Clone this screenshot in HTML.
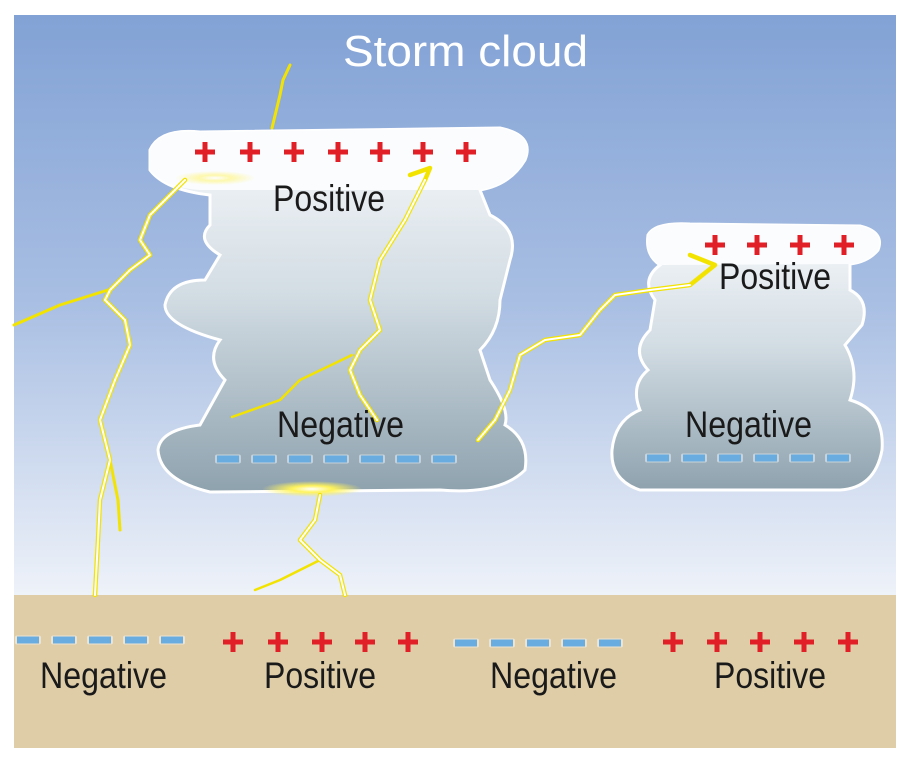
<!DOCTYPE html>
<html><head><meta charset="utf-8"><style>
body{margin:0;background:#fff}
svg{display:block}
text{font-family:"Liberation Sans",sans-serif}
</style></head><body>
<svg width="912" height="765" viewBox="0 0 912 765" xmlns="http://www.w3.org/2000/svg">
<defs>
<linearGradient id="sky" x1="0" y1="0" x2="0" y2="1">
<stop offset="0" stop-color="#82a2d5"/><stop offset="0.5" stop-color="#a9bfe3"/><stop offset="1" stop-color="#eef2f9"/>
</linearGradient>
<linearGradient id="cl" x1="0" y1="0" x2="0" y2="1">
<stop offset="0" stop-color="#f7f9fb"/><stop offset="0.45" stop-color="#d3dde4"/><stop offset="1" stop-color="#8ea2ae"/>
</linearGradient>
<radialGradient id="glow"><stop offset="0" stop-color="#fff"/><stop offset="0.4" stop-color="#fff35a"/><stop offset="1" stop-color="#fff35a" stop-opacity="0"/></radialGradient>
<g id="p"><rect x="-10" y="-2.5" width="20" height="5" fill="#e01f26"/><rect x="-2.5" y="-10" width="5" height="20" fill="#e01f26"/></g>
<g id="d"><rect x="-13" y="-4.5" width="26" height="9" rx="2" fill="#fff" opacity="0.45"/><rect x="-11" y="-3.5" width="22" height="7" fill="#68ace0"/></g>
</defs>
<rect x="14" y="15" width="882" height="580" fill="url(#sky)"/>
<rect x="14" y="595" width="882" height="153" fill="#dfcda8"/>
<path d="M150,150 Q160,128 200,132 L500,128 Q535,135 525,160 Q510,185 480,190 L490,215 Q520,230 510,260 L500,300 Q500,330 480,350 L490,380 Q510,410 505,425 Q530,440 525,470 Q500,495 440,490 L210,492 Q160,480 158,450 Q160,430 200,425 L225,380 Q205,360 220,340 Q165,325 165,305 Q170,280 205,280 L220,255 Q195,240 210,225 L210,195 Q165,190 150,170 Z" fill="url(#cl)" stroke="#fff" stroke-width="3"/>
<path d="M150,150 Q160,128 200,132 L500,128 Q535,135 525,160 Q510,185 480,190 L200,190 Q165,188 150,170 Z" fill="#fbfcfd"/>
<path d="M648,235 Q655,222 690,224 L860,226 Q885,232 878,250 Q868,262 850,264 L850,290 Q870,300 862,325 L845,345 Q860,370 850,400 Q885,410 882,450 Q875,488 840,490 L640,490 Q610,480 612,450 Q615,420 640,410 Q630,385 648,370 Q630,350 650,330 L655,300 Q640,280 660,265 Q645,255 648,235 Z" fill="url(#cl)" stroke="#fff" stroke-width="3"/>
<path d="M648,235 Q655,222 690,224 L860,226 Q885,232 878,250 Q868,262 850,264 L660,265 Q645,255 648,235 Z" fill="#fbfcfd"/>
<ellipse cx="312" cy="489" rx="50" ry="8" fill="url(#glow)"/>
<ellipse cx="215" cy="178" rx="40" ry="7" fill="url(#glow)" opacity="0.5"/>
<g fill="none" stroke-linejoin="round" stroke-linecap="round">
<g stroke="#f3e300" stroke-width="4.5">
<polyline points="272,128 280,95 283,80 290,65" stroke-width="3"/>
<polyline points="185,180 170,195 150,215 140,240 150,255 130,270 110,290 105,300 125,320 130,345 115,380 100,420 110,460 100,500 98,540 95,595"/>
<polyline points="14,325 60,305 108,290" stroke-width="3"/>
<polyline points="110,460 118,500 120,530" stroke-width="3"/>
<polyline points="410,175 430,168 425,180 405,220 380,260 370,300 380,330 360,350 350,370 360,395 377,420"/>
<polyline points="352,355 300,380 280,400 232,417" stroke-width="2.5"/>
<polyline points="478,440 495,420 510,390 520,355 545,340 580,335 600,310 615,295 650,290 690,285 715,265 690,255"/>
<polyline points="320,495 315,520 300,540 320,560 340,575 345,595"/>
<polyline points="320,560 280,580 255,590" stroke-width="2.5"/>
</g>
<g stroke="#fff" stroke-width="2">
<polyline points="185,180 170,195 150,215 140,240 150,255 130,270 110,290 105,300 125,320 130,345 115,380 100,420 110,460 100,500 98,540 95,595"/>
<polyline points="425,180 405,220 380,260 370,300 380,330 360,350 350,370 360,395 377,420"/>
<polyline points="478,440 495,420 510,390 520,355 545,340 580,335 600,310 615,295 650,290 690,285"/>
<polyline points="320,495 315,520 300,540 320,560 340,575 345,595"/>
</g>
</g>
<use href="#p" x="205" y="152"/><use href="#p" x="250" y="152"/><use href="#p" x="294" y="152"/><use href="#p" x="338" y="152"/><use href="#p" x="380" y="152"/><use href="#p" x="423" y="152"/><use href="#p" x="466" y="152"/>
<use href="#p" x="715" y="245"/><use href="#p" x="757" y="245"/><use href="#p" x="800" y="245"/><use href="#p" x="844" y="245"/>
<use href="#p" x="233" y="642"/><use href="#p" x="278" y="642"/><use href="#p" x="322" y="642"/><use href="#p" x="365" y="642"/><use href="#p" x="408" y="642"/>
<use href="#p" x="673" y="642"/><use href="#p" x="717" y="642"/><use href="#p" x="760" y="642"/><use href="#p" x="804" y="642"/><use href="#p" x="848" y="642"/>
<use href="#d" x="228" y="459"/><use href="#d" x="264" y="459"/><use href="#d" x="300" y="459"/><use href="#d" x="336" y="459"/><use href="#d" x="372" y="459"/><use href="#d" x="408" y="459"/><use href="#d" x="444" y="459"/>
<use href="#d" x="658" y="458"/><use href="#d" x="694" y="458"/><use href="#d" x="730" y="458"/><use href="#d" x="766" y="458"/><use href="#d" x="802" y="458"/><use href="#d" x="838" y="458"/>
<use href="#d" x="28" y="640"/><use href="#d" x="64" y="640"/><use href="#d" x="100" y="640"/><use href="#d" x="136" y="640"/><use href="#d" x="172" y="640"/>
<use href="#d" x="466" y="643"/><use href="#d" x="502" y="643"/><use href="#d" x="538" y="643"/><use href="#d" x="574" y="643"/><use href="#d" x="610" y="643"/>
<text x="343" y="66" font-size="44" fill="#fff" textLength="245" lengthAdjust="spacingAndGlyphs">Storm cloud</text>
<g font-size="37" fill="#1a1a1a">
<text x="273" y="211" textLength="112" lengthAdjust="spacingAndGlyphs">Positive</text>
<text x="277" y="437" textLength="127" lengthAdjust="spacingAndGlyphs">Negative</text>
<text x="719" y="289" textLength="112" lengthAdjust="spacingAndGlyphs">Positive</text>
<text x="685" y="437" textLength="127" lengthAdjust="spacingAndGlyphs">Negative</text>
<text x="40" y="688" textLength="127" lengthAdjust="spacingAndGlyphs">Negative</text>
<text x="264" y="688" textLength="112" lengthAdjust="spacingAndGlyphs">Positive</text>
<text x="490" y="688" textLength="127" lengthAdjust="spacingAndGlyphs">Negative</text>
<text x="714" y="688" textLength="112" lengthAdjust="spacingAndGlyphs">Positive</text>
</g>
</svg>
</body></html>
